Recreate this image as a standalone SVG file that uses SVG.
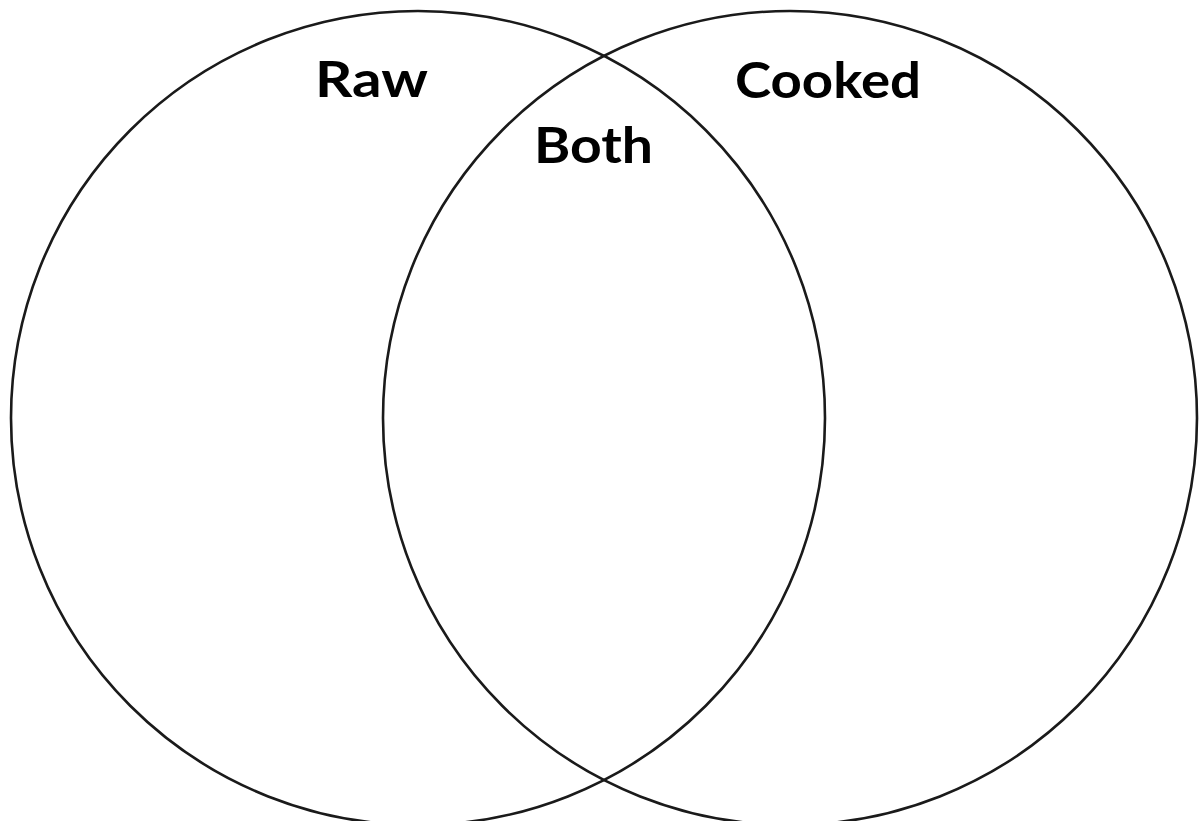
<svg xmlns="http://www.w3.org/2000/svg" width="1200" height="821" viewBox="0 0 1200 821">
<style>
.ring{fill:none;stroke:#1a1a1a;stroke-width:2.6}
.lbl{font-family:"Comic Sans MS","Lato","DejaVu Sans",sans-serif;font-weight:bold;font-size:50px;fill:#000}
</style>
<rect width="1200" height="821" fill="#fff"/>
<g id="raw">
<circle class="ring" cx="418" cy="418" r="407"/>
<text class="lbl" x="315" y="97" textLength="113" lengthAdjust="spacingAndGlyphs">Raw</text>
</g>
<g id="cooked">
<circle class="ring" cx="790" cy="418" r="407"/>
<text class="lbl" x="735" y="98" textLength="186" lengthAdjust="spacingAndGlyphs">Cooked</text>
</g>
<g id="both">
<text class="lbl" x="534" y="163" textLength="119" lengthAdjust="spacingAndGlyphs">Both</text>
</g>
</svg>
